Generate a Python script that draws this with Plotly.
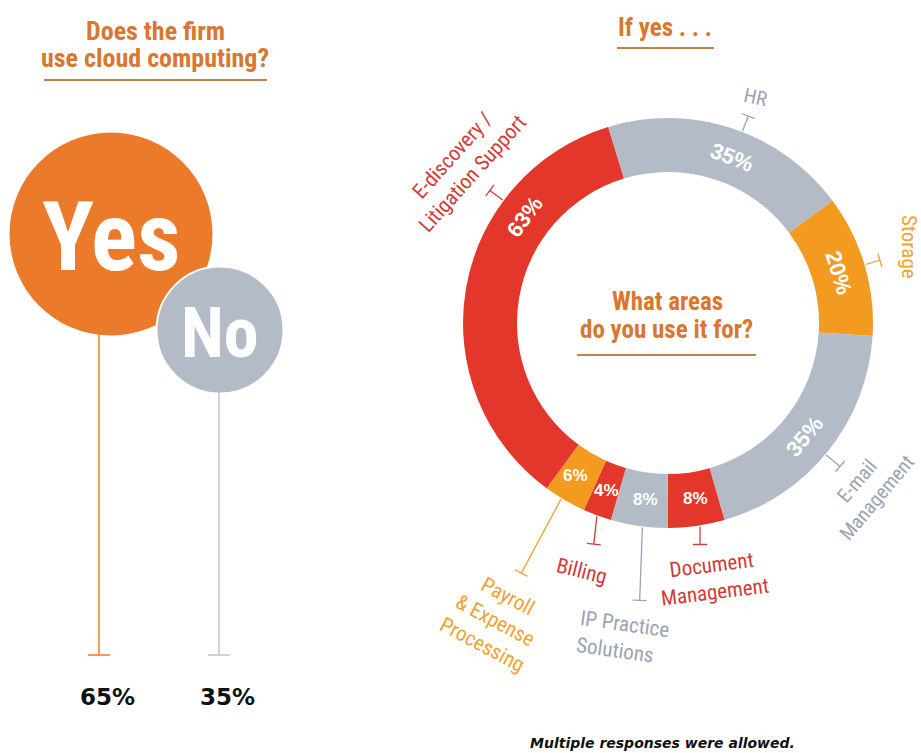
import math
import plotly.graph_objects as go

W, H = 921, 753

# ---------------- data ----------------
answers = ["Yes", "No"]
answer_shares = [65, 35]

areas = ["HR", "Storage", "E-mail Management", "Document Management",
         "IP Practice Solutions", "Billing", "Payroll & Expense Processing",
         "E-discovery / Litigation Support"]
area_shares = [35, 20, 35, 8, 8, 4, 6, 63]
area_label_text = ["HR", "Storage", "E-mail<br>Management", "Document<br>Management",
                   "IP Practice<br>Solutions", "Billing", "Payroll<br>& Expense<br>Processing",
                   "E-discovery /<br>Litigation Support"]

# ---------------- styles ----------------
RED = "#E2372A"
GRAY = "#B3BBC7"
AMBER = "#F39A21"
YES_OR = "#EC7A2B"
TITLE_OR = "#D9772F"
LINE_OR = "#C58050"
LAB_RED = "#D23B37"
LAB_GRAY = "#9AA4B2"
LAB_AMB = "#EEA332"
NARROW = ("Roboto Condensed, Noto Sans Condensed, Noto Sans ExtraCondensed, "
          "DejaVu Sans Condensed, Liberation Sans Narrow, Arial Narrow, Liberation Sans, sans-serif")
NUMF = "Liberation Sans, Arial, sans-serif"

slice_colors = {"HR": GRAY, "Storage": AMBER, "E-mail Management": GRAY,
                "Document Management": RED, "IP Practice Solutions": GRAY,
                "Billing": RED, "Payroll & Expense Processing": AMBER,
                "E-discovery / Litigation Support": RED}
label_colors = {"HR": LAB_GRAY, "Storage": LAB_AMB, "E-mail Management": LAB_GRAY,
                "Document Management": LAB_RED, "IP Practice Solutions": LAB_GRAY,
                "Billing": LAB_RED, "Payroll & Expense Processing": LAB_AMB,
                "E-discovery / Litigation Support": LAB_RED}
# anchor offset from slice mid, ring-text orientation, leader (length, dir offset),
# outer label (radius, angle offset, textangle, align, size)
style = {
    "HR": dict(off=3, orient="tan", lead=(16, 0), lab=(242, 0, 12, "center", 20)),
    "Storage": dict(off=0, orient="tan", lead=(15, 0), lab=(252, -1, 90, "center", 21)),
    "E-mail Management": dict(off=1, orient="tan", lead=(18, 0), lab=(259, 0, -50, "center", 20)),
    "Document Management": dict(off=-1, orient="h", lead=(18, 9), lab=(259, -1, -7, "center", 21)),
    "IP Practice Solutions": dict(off=-1, orient="h", lead=(73, -5), lab=(318, 1, 8, "left", 21)),
    "Billing": dict(off=0, orient="h", lead=(28, -14), lab=(263, -1, 14, "center", 21)),
    "Payroll & Expense Processing": dict(off=1, orient="h", lead=(84, -3), lab=(344, -1, 28, "center", 21)),
    "E-discovery / Litigation Support": dict(off=27, orient="tan", lead=(16, 0), lab=(260, 1, -48, "center", 21)),
}
ring_font = {"tan": 22, "h": 17}

CX, CY, R_OUT, R_IN = 668, 323, 205, 151
START = -17

def pol(theta, r):
    a = math.radians(theta)
    return CX + r * math.sin(a), CY - r * math.cos(a)

fig = go.Figure()

# ---------------- donut ----------------
fig.add_trace(go.Pie(
    values=area_shares, labels=areas, sort=False, direction="clockwise",
    rotation=START, hole=R_IN / R_OUT,
    marker=dict(colors=[slice_colors[a] for a in areas], line=dict(width=0)),
    textinfo="none", hoverinfo="skip", showlegend=False,
    domain=dict(x=[(CX - R_OUT) / W, (CX + R_OUT) / W],
                y=[(H - CY - R_OUT) / H, (H - CY + R_OUT) / H]),
))

annotations = []
shapes = []

def ann(x, y, text, size, color, family=NARROW, angle=0, align="center"):
    annotations.append(dict(x=x, y=y, xref="x", yref="y", text=text, showarrow=False,
                            font=dict(size=size, color=color, family=family),
                            textangle=angle, align=align, xanchor="center", yanchor="middle"))

def seg(x0, y0, x1, y1, color, width=1.5):
    shapes.append(dict(type="line", xref="x", yref="y", x0=x0, y0=y0, x1=x1, y1=y1,
                       line=dict(color=color, width=width)))

total = sum(area_shares)
cum = 0
for area, v, txt in zip(areas, area_shares, area_label_text):
    a0 = START + 360 * cum / total
    a1 = a0 + 360 * v / total
    cum += v
    st = style[area]
    anchor = (a0 + a1) / 2 + st["off"]
    # value label in ring
    rx, ry = pol(anchor, (R_IN + R_OUT) / 2)
    if st["orient"] == "tan":
        ang = anchor % 360
        ta = ang if ang <= 90 else (ang - 180 if ang < 270 else ang - 360)
    else:
        ta = 0
    ann(rx, ry, "<b>%d%%</b>" % v, ring_font[st["orient"]], "white", family=NUMF, angle=ta)
    # leader with T end
    length, doff = st["lead"]
    sx, sy = pol(anchor, R_OUT + 1)
    d = math.radians(anchor + doff)
    ex, ey = sx + length * math.sin(d), sy - length * math.cos(d)
    lc = label_colors[area]
    seg(sx, sy, ex, ey, lc, 1.3)
    px, py = math.cos(d) * 7, math.sin(d) * 7
    seg(ex - px, ey - py, ex + px, ey + py, lc, 1.3)
    # outer label
    lr, la, lta, lal, lsz = st["lab"]
    lx, ly = pol(anchor + la, lr)
    ann(lx, ly, txt, lsz, lc, angle=lta, align=lal)

# donut titles
ann(665, 27, "<b>If yes . . .</b>", 25, TITLE_OR)
seg(617, 48, 714, 48, LINE_OR, 2)
ann(667, 301, "<b>What areas</b>", 25, TITLE_OR)
ann(666, 329, "<b>do you use it for?</b>", 25, TITLE_OR)
seg(577, 355, 756, 355, LINE_OR, 2)

# ---------------- left panel ----------------
ann(155, 31, "<b>Does the firm</b>", 26, TITLE_OR)
ann(155, 58, "<b>use cloud computing?</b>", 26, TITLE_OR)
seg(44, 80, 267, 80, LINE_OR, 2)

circ = {"Yes": dict(cx=111, cy=234, d=203, color=YES_OR, line_x=99, fs=96, lc=YES_OR, tx=107),
        "No": dict(cx=220, cy=330, d=127, color=GRAY, line_x=219, fs=70, lc="#BFC4CC", tx=227)}
BASE = 655
for ans, share in zip(answers, answer_shares):
    c = circ[ans]
    seg(c["line_x"], c["cy"] + c["d"] / 2 - 2, c["line_x"], BASE, c["lc"], 1.5)
    seg(c["line_x"] - 11, BASE, c["line_x"] + 11, BASE, c["lc"], 1.5)
    fig.add_trace(go.Scatter(x=[c["cx"]], y=[c["cy"]], mode="markers",
                             marker=dict(size=c["d"], color=c["color"],
                                         line=dict(color="white", width=2 if ans == "No" else 0)),
                             hoverinfo="skip", showlegend=False))
    ann(c["cx"], c["cy"] + 3, "<b>%s</b>" % ans, c["fs"], "white")
    ann(c["tx"], 697, "<b>%d%%</b>" % share, 23, "#111111", family="DejaVu Sans, sans-serif")

ann(662, 743, "<b><i>Multiple responses were allowed.</i></b>", 14, "#111111",
    family="DejaVu Sans, sans-serif")

fig.update_layout(
    width=W, height=H, margin=dict(l=0, r=0, t=0, b=0),
    paper_bgcolor="white", plot_bgcolor="rgba(0,0,0,0)",
    xaxis=dict(range=[0, W], visible=False, fixedrange=True),
    yaxis=dict(range=[H, 0], visible=False, fixedrange=True),
    annotations=annotations, shapes=shapes, showlegend=False,
)
fig.write_html("out.html")
